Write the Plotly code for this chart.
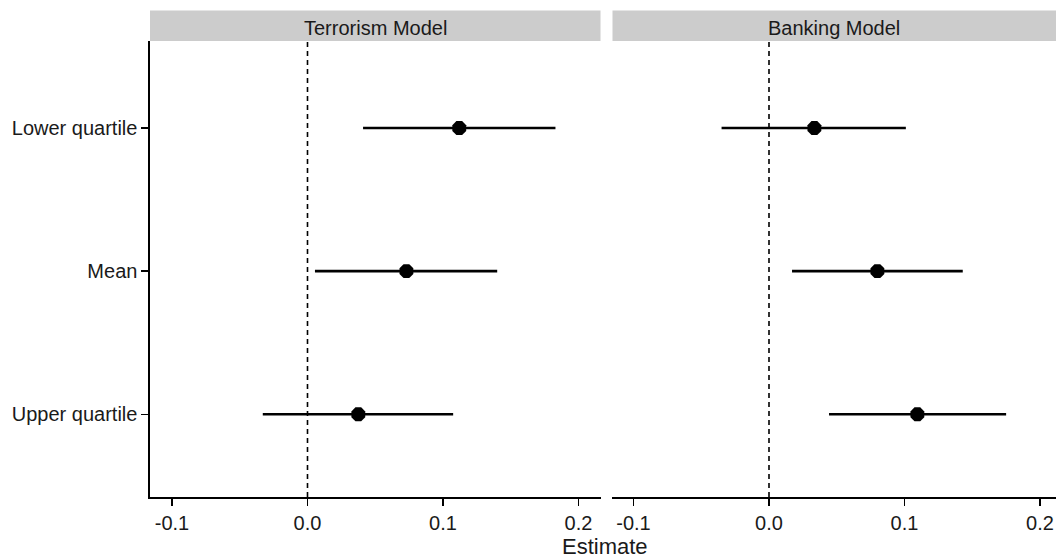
import plotly.graph_objects as go

W, H = 1056, 559

categories = ["Lower quartile", "Mean", "Upper quartile"]
panels = ["Terrorism Model", "Banking Model"]

terror_est = [0.112, 0.073, 0.0375]
terror_lo = [0.041, 0.0055, -0.033]
terror_hi = [0.183, 0.140, 0.1075]

bank_est = [0.0335, 0.080, 0.1095]
bank_lo = [-0.035, 0.017, 0.0443]
bank_hi = [0.101, 0.143, 0.175]

x_tickvals = [-0.1, 0.0, 0.1, 0.2]
x_ticktext = ["-0.1", "0.0", "0.1", "0.2"]

FONT = "Liberation Sans, Arial, sans-serif"
TXT = "#1a1a1a"

def px_x(p):
    return p / W

def px_y(p):
    return (H - p) / H

fig = go.Figure()

series = [(terror_est, terror_lo, terror_hi, "x", "y"),
          (bank_est, bank_lo, bank_hi, "x2", "y2")]
for est, lo, hi, xa, ya in series:
    fig.add_trace(go.Scatter(
        x=est, y=categories, mode="markers",
        marker=dict(symbol="octagon", size=15, color="black",
                    line=dict(width=0)),
        error_x=dict(type="data", symmetric=False,
                     array=[h - e for h, e in zip(hi, est)],
                     arrayminus=[e - l for e, l in zip(est, lo)],
                     width=0, thickness=2.6, color="black"),
        xaxis=xa, yaxis=ya, showlegend=False, hoverinfo="skip"))

# zero reference lines
for xr, yr in [("x", "y domain"), ("x2", "y2 domain")]:
    fig.add_shape(type="line", xref=xr, yref=yr, x0=0, x1=0, y0=0, y1=1,
                  line=dict(color="black", width=1.6, dash="5px,4px"), layer="below")

# strips
strip_spans = [(150, 600.5), (612.5, 1056)]
for (a, b), name in zip(strip_spans, panels):
    fig.add_shape(type="rect", xref="paper", yref="paper",
                  x0=px_x(a), x1=px_x(b), y0=px_y(41), y1=px_y(10.5),
                  fillcolor="#cccccc", line=dict(width=0))
    fig.add_annotation(x=px_x((a + b) / 2), y=px_y(27.5), xref="paper", yref="paper",
                       text=name, showarrow=False, xanchor="center", yanchor="middle",
                       font=dict(family=FONT, size=20, color=TXT))

fig.add_annotation(x=px_x(605), y=px_y(546), xref="paper", yref="paper",
                   text="Estimate", showarrow=False, xanchor="center", yanchor="middle",
                   font=dict(family=FONT, size=22, color=TXT))

y_dom = [px_y(497), px_y(41)]
y_rng = [2.578, -0.608]

xcommon = dict(tickvals=x_tickvals, ticktext=x_ticktext, showgrid=False, zeroline=False,
               showline=True, linecolor="black", linewidth=1.6, ticks="outside",
               ticklen=7, tickwidth=1.4, tickcolor="black",
               tickfont=dict(family=FONT, size=20, color=TXT))

fig.update_layout(
    width=W, height=H, margin=dict(l=0, r=0, t=0, b=0),
    plot_bgcolor="white", paper_bgcolor="white",
    xaxis=dict(domain=[px_x(150), px_x(601)],
               range=[(150 - 307.5) / 1355, (601 - 307.5) / 1355], anchor="y", **xcommon),
    xaxis2=dict(domain=[px_x(612), 1.0],
                range=[(612 - 769) / 1355, (1056 - 769) / 1355], anchor="y2", **xcommon),
    yaxis=dict(domain=y_dom, type="category", categoryarray=categories, range=y_rng,
               showgrid=False, zeroline=False, showline=True, linecolor="black",
               linewidth=1.6, ticks="outside", ticklen=7, tickwidth=1.4, tickcolor="black",
               tickfont=dict(family=FONT, size=20, color=TXT), anchor="x"),
    yaxis2=dict(domain=y_dom, type="category", categoryarray=categories, range=y_rng,
                showgrid=False, zeroline=False, showline=False, ticks="",
                showticklabels=False, anchor="x2"),
)

fig.write_html("out.html", config={"displayModeBar": False, "staticPlot": True},
               post_script="document.body.style.margin='0';document.body.style.overflow='hidden';")
